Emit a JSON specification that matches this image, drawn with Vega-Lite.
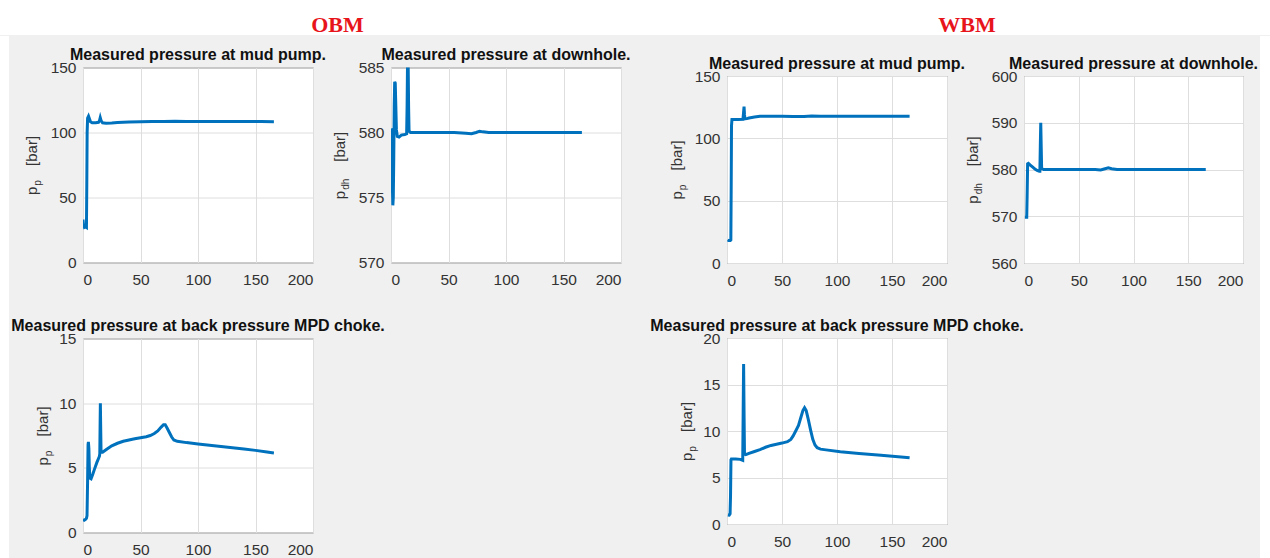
{
  "$schema": "https://vega.github.io/schema/vega-lite/v6.json",
  "background": "#f0f0f0",
  "padding": {"left": 0, "top": 0, "right": 0, "bottom": 0},
  "spacing": 0,
  "config": {
    "view": {"fill": "white", "stroke": "#6e6e6e", "strokeWidth": 1},
    "axis": {
      "grid": true, "gridColor": "#dedede", "gridWidth": 1,
      "domain": false, "ticks": false,
      "labelFont": "Liberation Sans", "labelFontSize": 15.5, "labelColor": "#333333", "labelPadding": 7,
      "titleFont": "Liberation Sans", "titleFontWeight": "normal", "titleFontSize": 15, "titleColor": "#333333"
    },
    "axisX": {"labelPadding": 10},
    "axisY": {"titleAngle": -90, "titleAlign": "center", "titleBaseline": "alphabetic"},
    "title": {"font": "Liberation Sans", "fontSize": 16, "fontWeight": "bold", "color": "#111111", "anchor": "middle", "offset": -2.5},
    "line": {"color": "#0072BD", "strokeWidth": 3}
  },
  "datasets": {
    "obm_pump": [
      {"t": 0, "p": 33}, {"t": 0.5, "p": 28.5}, {"t": 1.2, "p": 27}, {"t": 2.2, "p": 27.5}, {"t": 3, "p": 27},
      {"t": 3.3, "p": 60}, {"t": 3.6, "p": 100}, {"t": 4, "p": 111}, {"t": 4.8, "p": 112.5}, {"t": 5.6, "p": 110.5},
      {"t": 6.5, "p": 108.3}, {"t": 8, "p": 107.5}, {"t": 11, "p": 107.5}, {"t": 13.5, "p": 107.8}, {"t": 14.3, "p": 109},
      {"t": 15, "p": 111.5}, {"t": 15.8, "p": 109}, {"t": 17, "p": 107.5}, {"t": 20, "p": 107.2}, {"t": 25, "p": 107.4},
      {"t": 30, "p": 107.7}, {"t": 40, "p": 108.1}, {"t": 50, "p": 108.3}, {"t": 60, "p": 108.4}, {"t": 70, "p": 108.4},
      {"t": 80, "p": 108.6}, {"t": 90, "p": 108.5}, {"t": 100, "p": 108.5}, {"t": 120, "p": 108.4}, {"t": 140, "p": 108.4},
      {"t": 155, "p": 108.4}, {"t": 166, "p": 108.3}
    ],
    "obm_dh": [
      {"t": 0, "p": 580.3}, {"t": 0.4, "p": 580.2}, {"t": 0.8, "p": 578.5}, {"t": 1.3, "p": 575.5}, {"t": 1.6, "p": 574.4},
      {"t": 2, "p": 575}, {"t": 2.4, "p": 578}, {"t": 2.8, "p": 582}, {"t": 3.2, "p": 583.9}, {"t": 3.7, "p": 583.8},
      {"t": 4.2, "p": 582}, {"t": 4.7, "p": 580.2}, {"t": 5.5, "p": 579.7}, {"t": 7, "p": 579.65}, {"t": 9, "p": 579.8},
      {"t": 12, "p": 579.85}, {"t": 13.6, "p": 579.9}, {"t": 14, "p": 582}, {"t": 14.4, "p": 585.6}, {"t": 14.9, "p": 585.6},
      {"t": 15.3, "p": 582}, {"t": 15.7, "p": 580.1}, {"t": 17, "p": 580}, {"t": 25, "p": 580}, {"t": 40, "p": 580},
      {"t": 55, "p": 580}, {"t": 65, "p": 579.95}, {"t": 70, "p": 579.9}, {"t": 74, "p": 580}, {"t": 77, "p": 580.1},
      {"t": 80, "p": 580.05}, {"t": 85, "p": 580}, {"t": 100, "p": 580}, {"t": 130, "p": 580}, {"t": 166, "p": 580}
    ],
    "obm_choke": [
      {"t": 0, "p": 1.0}, {"t": 1, "p": 0.95}, {"t": 2, "p": 1.0}, {"t": 3, "p": 1.1}, {"t": 3.5, "p": 1.3},
      {"t": 4, "p": 4}, {"t": 4.4, "p": 6.8}, {"t": 4.7, "p": 7.0}, {"t": 5.1, "p": 6.5}, {"t": 5.5, "p": 5},
      {"t": 6, "p": 4.2}, {"t": 7, "p": 4.15}, {"t": 8.5, "p": 4.5}, {"t": 10, "p": 4.9}, {"t": 12, "p": 5.4},
      {"t": 14.3, "p": 5.9}, {"t": 14.6, "p": 6.1}, {"t": 14.9, "p": 8.5}, {"t": 15.1, "p": 10.0}, {"t": 15.4, "p": 8},
      {"t": 15.7, "p": 6.2}, {"t": 17, "p": 6.2}, {"t": 20, "p": 6.4}, {"t": 25, "p": 6.7}, {"t": 30, "p": 6.9},
      {"t": 35, "p": 7.05}, {"t": 40, "p": 7.15}, {"t": 45, "p": 7.25}, {"t": 50, "p": 7.33}, {"t": 55, "p": 7.4},
      {"t": 58.5, "p": 7.5}, {"t": 62, "p": 7.65}, {"t": 65, "p": 7.85}, {"t": 68, "p": 8.15}, {"t": 70, "p": 8.33},
      {"t": 71.5, "p": 8.33}, {"t": 73, "p": 8.1}, {"t": 75, "p": 7.75}, {"t": 77, "p": 7.4}, {"t": 79, "p": 7.15},
      {"t": 82, "p": 7.05}, {"t": 90, "p": 6.95}, {"t": 100, "p": 6.85}, {"t": 110, "p": 6.75}, {"t": 120, "p": 6.65},
      {"t": 130, "p": 6.55}, {"t": 140, "p": 6.45}, {"t": 150, "p": 6.35}, {"t": 160, "p": 6.22}, {"t": 166, "p": 6.15}
    ],
    "wbm_pump": [
      {"t": 0.5, "p": 18.5}, {"t": 1.5, "p": 18}, {"t": 3, "p": 18}, {"t": 3.5, "p": 18.5}, {"t": 3.8, "p": 60},
      {"t": 4.1, "p": 110}, {"t": 4.5, "p": 115.2}, {"t": 6, "p": 115.2}, {"t": 10, "p": 115.2}, {"t": 14.5, "p": 115.3},
      {"t": 15, "p": 120}, {"t": 15.5, "p": 125.5}, {"t": 15.9, "p": 119}, {"t": 16.3, "p": 115.6}, {"t": 18, "p": 115.8},
      {"t": 20, "p": 116.3}, {"t": 25, "p": 117.1}, {"t": 30, "p": 117.7}, {"t": 40, "p": 117.8}, {"t": 50, "p": 117.7},
      {"t": 60, "p": 117.6}, {"t": 70, "p": 117.6}, {"t": 77, "p": 118}, {"t": 85, "p": 117.7}, {"t": 100, "p": 117.7},
      {"t": 120, "p": 117.7}, {"t": 140, "p": 117.7}, {"t": 166, "p": 117.7}
    ],
    "wbm_dh": [
      {"t": 0.8, "p": 569.8}, {"t": 2.5, "p": 569.8}, {"t": 2.9, "p": 575}, {"t": 3.3, "p": 581.2}, {"t": 4, "p": 581.3},
      {"t": 6, "p": 580.9}, {"t": 8, "p": 580.5}, {"t": 10, "p": 580.1}, {"t": 12, "p": 579.8}, {"t": 14, "p": 579.6},
      {"t": 14.5, "p": 579.6}, {"t": 14.9, "p": 585}, {"t": 15.3, "p": 590}, {"t": 15.7, "p": 585}, {"t": 16.1, "p": 580.2},
      {"t": 18, "p": 580}, {"t": 30, "p": 580}, {"t": 50, "p": 580}, {"t": 65, "p": 580}, {"t": 70, "p": 579.9},
      {"t": 74, "p": 580.15}, {"t": 77, "p": 580.35}, {"t": 80, "p": 580.15}, {"t": 85, "p": 580}, {"t": 100, "p": 580},
      {"t": 130, "p": 580}, {"t": 166, "p": 580}
    ],
    "wbm_choke": [
      {"t": 0.8, "p": 0.97}, {"t": 2, "p": 0.95}, {"t": 2.8, "p": 1.1}, {"t": 3.2, "p": 3}, {"t": 3.6, "p": 6.9},
      {"t": 4, "p": 7.0}, {"t": 8, "p": 7.0}, {"t": 12, "p": 6.95}, {"t": 14.3, "p": 6.85}, {"t": 14.7, "p": 12},
      {"t": 15.1, "p": 17.2}, {"t": 15.5, "p": 12}, {"t": 15.9, "p": 7.5}, {"t": 17, "p": 7.45}, {"t": 20, "p": 7.6},
      {"t": 25, "p": 7.8}, {"t": 30, "p": 8.0}, {"t": 35, "p": 8.25}, {"t": 40, "p": 8.45}, {"t": 45, "p": 8.58},
      {"t": 50, "p": 8.7}, {"t": 55, "p": 8.85}, {"t": 58, "p": 9.1}, {"t": 60, "p": 9.45}, {"t": 62, "p": 9.9},
      {"t": 65, "p": 10.6}, {"t": 67, "p": 11.4}, {"t": 69, "p": 12.2}, {"t": 70.5, "p": 12.5}, {"t": 72, "p": 12.2},
      {"t": 74, "p": 11.2}, {"t": 76, "p": 10.1}, {"t": 78, "p": 9.1}, {"t": 80, "p": 8.5}, {"t": 82, "p": 8.2},
      {"t": 85, "p": 8.05}, {"t": 90, "p": 7.97}, {"t": 103, "p": 7.76}, {"t": 120, "p": 7.58}, {"t": 140, "p": 7.4},
      {"t": 166, "p": 7.12}
    ]
  },
  "vconcat": [
    {
      "width": 1270, "height": 35,
      "view": {"fill": "white", "stroke": null},
      "data": {"values": [{"label": "OBM"}, {"label": "WBM"}]},
      "mark": {"type": "text", "font": "Liberation Serif", "fontWeight": "bold", "fontSize": 22, "color": "#e8141b", "baseline": "alphabetic", "dy": 14.5},
      "encoding": {
        "x": {"field": "label", "type": "nominal", "scale": {"type": "point", "domain": ["OBM", "WBM"], "range": [337.5, 967], "padding": 0}, "axis": null},
        "text": {"field": "label"}
      }
    },
    {
      "hconcat": [
        {
          "width": 9, "height": 554,
          "view": {"fill": "white", "stroke": null},
          "data": {"values": []},
          "mark": "point"
        },
        {
          "hconcat": [
            {
              "concat": [
                {
                  "title": "Measured pressure at mud pump.",
                  "width": 230, "height": 195,
                  "data": {"name": "obm_pump"},
                  "layer": [
                    {"mark": {"type": "line", "clip": true},
                     "encoding": {
                       "x": {"field": "t", "type": "quantitative", "scale": {"domain": [0, 200], "nice": false}, "axis": {"values": [0, 50, 100, 150, 200], "title": null}},
                       "y": {"field": "p", "type": "quantitative", "scale": {"domain": [0, 150], "nice": false, "zero": false}, "axis": {"values": [0, 50, 100, 150], "title": "p\u00a0\u00a0\u00a0\u00a0\u00a0[bar]", "titleX": -47, "titleY": 97.5}}
                     }},
                    {"mark": {"type": "rule", "opacity": 0},
                     "encoding": {"y": {"datum": 0, "type": "quantitative", "axis": {"orient": "left", "labels": false, "grid": false, "title": "p", "titleFontSize": 10, "titleX": -43, "titleY": 115}}}}
                  ],
                  "resolve": {"axis": {"y": "independent"}}
                },
                {
                  "title": "Measured pressure at downhole.",
                  "width": 230, "height": 195,
                  "data": {"name": "obm_dh"},
                  "layer": [
                    {"mark": {"type": "line", "clip": true},
                     "encoding": {
                       "x": {"field": "t", "type": "quantitative", "scale": {"domain": [0, 200], "nice": false}, "axis": {"values": [0, 50, 100, 150, 200], "title": null}},
                       "y": {"field": "p", "type": "quantitative", "scale": {"domain": [570, 585], "nice": false, "zero": false}, "axis": {"values": [570, 575, 580, 585], "title": "p\u00a0\u00a0\u00a0\u00a0\u00a0\u00a0\u00a0[bar]", "titleX": -47, "titleY": 97.5}}
                     }},
                    {"mark": {"type": "rule", "opacity": 0},
                     "encoding": {"y": {"datum": 570, "type": "quantitative", "axis": {"orient": "left", "labels": false, "grid": false, "title": "dh", "titleFontSize": 10, "titleX": -43, "titleY": 116.3}}}}
                  ],
                  "resolve": {"axis": {"y": "independent"}}
                },
                {
                  "title": "Measured pressure at back pressure MPD choke.",
                  "width": 230, "height": 194,
                  "data": {"name": "obm_choke"},
                  "layer": [
                    {"mark": {"type": "line", "clip": true},
                     "encoding": {
                       "x": {"field": "t", "type": "quantitative", "scale": {"domain": [0, 200], "nice": false}, "axis": {"values": [0, 50, 100, 150, 200], "title": null}},
                       "y": {"field": "p", "type": "quantitative", "scale": {"domain": [0, 15], "nice": false, "zero": false}, "axis": {"values": [0, 5, 10, 15], "title": "p\u00a0\u00a0\u00a0\u00a0\u00a0[bar]", "titleX": -36, "titleY": 97}}
                     }},
                    {"mark": {"type": "rule", "opacity": 0},
                     "encoding": {"y": {"datum": 0, "type": "quantitative", "axis": {"orient": "left", "labels": false, "grid": false, "title": "p", "titleFontSize": 10, "titleX": -32, "titleY": 114.5}}}}
                  ],
                  "resolve": {"axis": {"y": "independent"}}
                }
              ],
              "columns": 2,
              "bounds": "flush",
              "spacing": {"row": 76, "column": 78}
            },
            {
              "concat": [
                {
                  "title": "Measured pressure at mud pump.",
                  "width": 220, "height": 187,
                  "data": {"name": "wbm_pump"},
                  "layer": [
                    {"mark": {"type": "line", "clip": true},
                     "encoding": {
                       "x": {"field": "t", "type": "quantitative", "scale": {"domain": [0, 200], "nice": false}, "axis": {"values": [0, 50, 100, 150, 200], "title": null}},
                       "y": {"field": "p", "type": "quantitative", "scale": {"domain": [0, 150], "nice": false, "zero": false}, "axis": {"values": [0, 50, 100, 150], "title": "p\u00a0\u00a0\u00a0\u00a0\u00a0[bar]", "titleX": -46, "titleY": 93.5}}
                     }},
                    {"mark": {"type": "rule", "opacity": 0},
                     "encoding": {"y": {"datum": 0, "type": "quantitative", "axis": {"orient": "left", "labels": false, "grid": false, "title": "p", "titleFontSize": 10, "titleX": -42, "titleY": 111}}}}
                  ],
                  "resolve": {"axis": {"y": "independent"}}
                },
                {
                  "title": "Measured pressure at downhole.",
                  "width": 219, "height": 187,
                  "data": {"name": "wbm_dh"},
                  "layer": [
                    {"mark": {"type": "line", "clip": true},
                     "encoding": {
                       "x": {"field": "t", "type": "quantitative", "scale": {"domain": [0, 200], "nice": false}, "axis": {"values": [0, 50, 100, 150, 200], "title": null}},
                       "y": {"field": "p", "type": "quantitative", "scale": {"domain": [560, 600], "nice": false, "zero": false}, "axis": {"values": [560, 570, 580, 590, 600], "title": "p\u00a0\u00a0\u00a0\u00a0\u00a0\u00a0\u00a0[bar]", "titleX": -47, "titleY": 93.5}}
                     }},
                    {"mark": {"type": "rule", "opacity": 0},
                     "encoding": {"y": {"datum": 560, "type": "quantitative", "axis": {"orient": "left", "labels": false, "grid": false, "title": "dh", "titleFontSize": 10, "titleX": -43, "titleY": 112.3}}}}
                  ],
                  "resolve": {"axis": {"y": "independent"}}
                },
                {
                  "title": "Measured pressure at back pressure MPD choke.",
                  "width": 220, "height": 186,
                  "data": {"name": "wbm_choke"},
                  "layer": [
                    {"mark": {"type": "line", "clip": true},
                     "encoding": {
                       "x": {"field": "t", "type": "quantitative", "scale": {"domain": [0, 200], "nice": false}, "axis": {"values": [0, 50, 100, 150, 200], "title": null}},
                       "y": {"field": "p", "type": "quantitative", "scale": {"domain": [0, 20], "nice": false, "zero": false}, "axis": {"values": [0, 5, 10, 15, 20], "title": "p\u00a0\u00a0\u00a0\u00a0\u00a0[bar]", "titleX": -36, "titleY": 93}}
                     }},
                    {"mark": {"type": "rule", "opacity": 0},
                     "encoding": {"y": {"datum": 0, "type": "quantitative", "axis": {"orient": "left", "labels": false, "grid": false, "title": "p", "titleFontSize": 10, "titleX": -32, "titleY": 110.5}}}}
                  ],
                  "resolve": {"axis": {"y": "independent"}}
                }
              ],
              "columns": 2,
              "bounds": "flush",
              "spacing": {"row": 75, "column": 77}
            }
          ],
          "spacing": 18,
          "center": true
        },
        {
          "width": 12, "height": 554,
          "view": {"fill": "white", "stroke": null},
          "data": {"values": []},
          "mark": "point"
        }
      ],
      "spacing": 1,
      "center": true
    }
  ]
}
